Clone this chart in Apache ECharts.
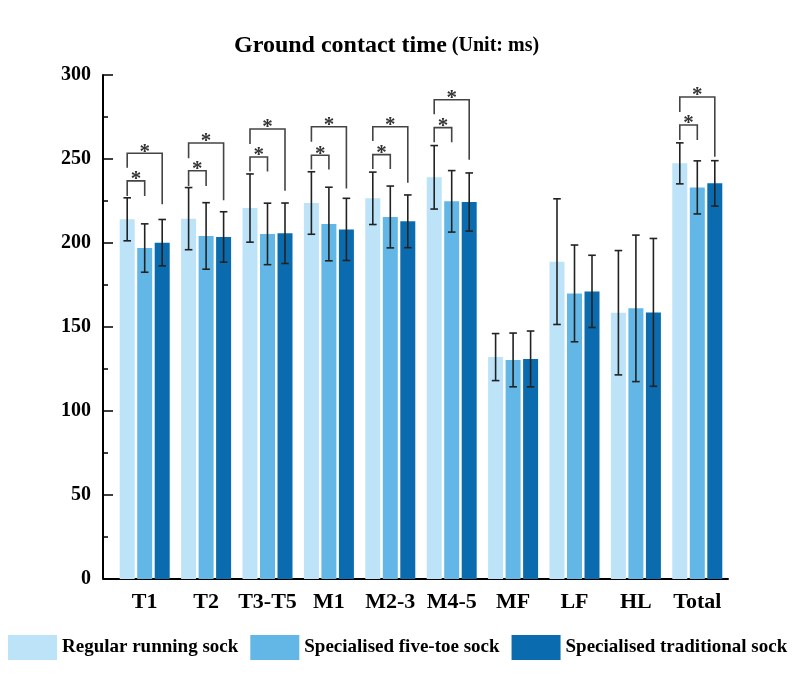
<!DOCTYPE html>
<html>
<head>
<meta charset="utf-8">
<title>Ground contact time</title>
<script src="https://cdn.jsdelivr.net/npm/echarts@6/dist/echarts.min.js"></script>
<style>
  html, body { margin: 0; padding: 0; background: #fff; }
  #chart { width: 800px; height: 686px; }
</style>
</head>
<body>
<div id="chart"></div>
<script>
var categories = ['T1', 'T2', 'T3-T5', 'M1', 'M2-3', 'M4-5', 'MF', 'LF', 'HL', 'Total'];
var seriesNames = ['Regular running sock', 'Specialised five-toe sock', 'Specialised traditional sock'];

// mean values (ms)
var regular = [214.1, 214.5, 220.8, 223.8, 226.6, 239.1, 132.1, 188.9, 158.5, 247.4];
var fiveToe = [197.0, 204.2, 205.4, 211.3, 215.5, 224.8, 130.4, 170.0, 161.1, 233.1];
var traditional = [200.2, 203.6, 205.8, 208.1, 212.9, 224.4, 131.0, 171.2, 158.7, 235.5];

// standard deviations (ms)
var regularSd = [12.8, 18.5, 20.3, 18.6, 15.6, 18.9, 14.0, 37.4, 37.0, 12.2];
var fiveToeSd = [14.4, 19.8, 18.3, 21.9, 18.4, 18.3, 16.0, 28.8, 43.6, 15.8];
var traditionalSd = [13.8, 15.0, 18.0, 18.5, 15.7, 17.3, 16.6, 21.5, 44.0, 13.5];

// significance brackets: [category, from series, to series, bracket height, left leg end, right leg end]
var brackets = [
  [0, 0, 1, 237.0, 228.0, 228.0], [0, 0, 2, 253.4, 244.8, 223.0],
  [1, 0, 1, 243.0, 234.0, 234.0], [1, 0, 2, 259.5, 250.4, 225.4],
  [2, 0, 1, 251.2, 242.5, 242.5], [2, 0, 2, 267.9, 258.9, 231.1],
  [3, 0, 1, 252.2, 243.8, 243.8], [3, 0, 2, 269.2, 260.3, 232.5],
  [4, 0, 1, 252.6, 244.0, 244.0], [4, 0, 2, 269.2, 260.7, 235.9],
  [5, 0, 1, 268.7, 259.9, 259.9], [5, 0, 2, 285.3, 276.6, 249.6],
  [9, 0, 1, 270.2, 261.3, 261.3], [9, 0, 2, 286.9, 278.0, 251.4]
];

var yTicks = { min: 0, max: 300, interval: 50 };

var colors = ['#BDE3F8', '#63B7E6', '#0A6CAF'];
var FONT = '"Liberation Serif", "Times New Roman", serif';
var BAR_W = 15;
var BAR_STEP = 17.5;
var GRID_LEFT = 114;
var AXIS_OFFSET = 11;
var GRID_BOTTOM = 107;

function barOffset(s) {
  return (s - 1) * BAR_STEP;
}

function errorRender(s) {
  return function (params, api) {
    var cat = api.value(0), mean = api.value(1), sd = api.value(2);
    var x = api.coord([cat, mean])[0] + barOffset(s);
    var top = api.coord([cat, mean + sd])[1];
    var bot = api.coord([cat, mean - sd])[1];
    var style = { stroke: '#222', lineWidth: 1.6 };
    return {
      type: 'group',
      children: [
        { type: 'line', shape: { x1: x, y1: top, x2: x, y2: bot }, style: style },
        { type: 'line', shape: { x1: x - 3.8, y1: top, x2: x + 3.8, y2: top }, style: style },
        { type: 'line', shape: { x1: x - 3.8, y1: bot, x2: x + 3.8, y2: bot }, style: style }
      ]
    };
  };
}

function bracketRender(params, api) {
  var cat = api.value(0);
  var x1 = api.coord([cat, 0])[0] + barOffset(api.value(1));
  var x2 = api.coord([cat, 0])[0] + barOffset(api.value(2));
  var yH = api.coord([cat, api.value(3)])[1];
  var yL = api.coord([cat, api.value(4)])[1];
  var yR = api.coord([cat, api.value(5)])[1];
  return {
    type: 'group',
    children: [
      {
        type: 'polyline',
        shape: { points: [[x1, yL], [x1, yH], [x2, yH], [x2, yR]] },
        style: { stroke: '#444', lineWidth: 1.6, fill: null }
      },
      {
        type: 'text',
        style: {
          x: (x1 + x2) / 2, y: yH - 1, text: '*',
          align: 'center', verticalAlign: 'middle',
          font: 'bold 21px ' + FONT, fill: '#333'
        }
      }
    ]
  };
}

function errData(means, sds) {
  return means.map(function (m, i) { return [i, m, sds[i]]; });
}

var means = [regular, fiveToe, traditional];
var sds = [regularSd, fiveToeSd, traditionalSd];

var series = [];
means.forEach(function (arr, s) {
  series.push({
    name: seriesNames[s],
    type: 'bar',
    data: arr,
    barWidth: BAR_W,
    barGap: ((BAR_STEP - BAR_W) / BAR_W * 100) + '%',
    itemStyle: { color: colors[s] },
    silent: true
  });
});
means.forEach(function (arr, s) {
  series.push({
    type: 'custom',
    renderItem: errorRender(s),
    data: errData(arr, sds[s]),
    encode: { x: 0, y: 1 },
    z: 5,
    silent: true
  });
});
series.push({
  type: 'custom',
  renderItem: bracketRender,
  data: brackets,
  encode: { x: 0, y: 3 },
  z: 6,
  silent: true
});

var chart = echarts.init(document.getElementById('chart'));
chart.setOption({
  animation: false,
  backgroundColor: '#fff',
  title: {
    text: '{a|Ground contact time} {b|(Unit: ms)}',
    left: 229,
    top: 29,
    textStyle: {
      rich: {
        a: { fontFamily: FONT, fontWeight: 'bold', fontSize: 24, color: '#000' },
        b: { fontFamily: FONT, fontWeight: 'bold', fontSize: 20, color: '#000' }
      }
    }
  },
  legend: {
    data: seriesNames,
    left: 8,
    top: 635,
    width: 792,
    padding: 0,
    itemWidth: 49,
    itemHeight: 25,
    itemGap: 12,
    icon: 'rect',
    selectedMode: false,
    textStyle: { fontFamily: FONT, fontWeight: 'bold', fontSize: 19, color: '#000' }
  },
  grid: { left: GRID_LEFT, right: 72, top: 75, bottom: GRID_BOTTOM },
  xAxis: {
    type: 'category',
    data: categories,
    axisLine: { lineStyle: { color: '#000', width: 2 } },
    axisTick: { inside: true, length: 5, lineStyle: { color: '#000', width: 1.5 } },
    axisLabel: { interval: 0, fontFamily: FONT, fontWeight: 'bold', fontSize: 22, color: '#000', margin: 12 }
  },
  yAxis: {
    type: 'value',
    min: yTicks.min,
    max: yTicks.max,
    interval: yTicks.interval,
    offset: AXIS_OFFSET,
    axisLine: { show: true, lineStyle: { color: '#000', width: 2 } },
    axisTick: { show: true, inside: true, length: 10, lineStyle: { color: '#000', width: 1.5 } },
    minorTick: { show: true, splitNumber: 2, length: 5, lineStyle: { color: '#000', width: 1.5 } },
    splitLine: { show: false },
    axisLabel: { fontFamily: FONT, fontWeight: 'bold', fontSize: 20, color: '#000', margin: 12 }
  },
  graphic: [{
    // extend the x axis line back to the offset y axis
    type: 'line',
    shape: { x1: GRID_LEFT - AXIS_OFFSET, y1: 686 - GRID_BOTTOM, x2: GRID_LEFT, y2: 686 - GRID_BOTTOM },
    style: { stroke: '#000', lineWidth: 2 },
    silent: true
  }],
  series: series
});
</script>
</body>
</html>
